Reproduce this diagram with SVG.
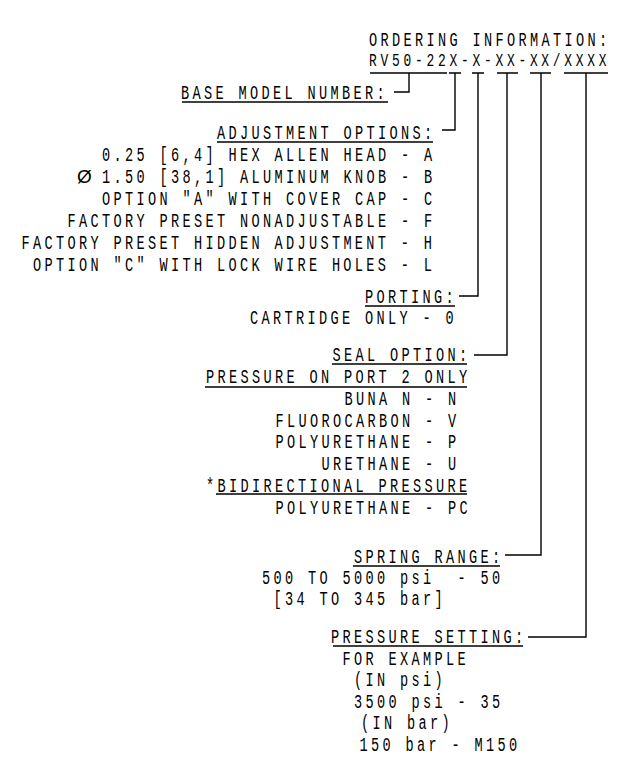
<svg xmlns="http://www.w3.org/2000/svg" width="632" height="784" viewBox="0 0 632 784">
<style>
  text { font-family: "Liberation Mono", "DejaVu Sans Mono", monospace; fill: #000; }
  .t { font-size: 20px; letter-spacing: 4.91px; }
  .h1 { font-size: 20px; letter-spacing: 4.91px; }
  .h2 { font-size: 19px; letter-spacing: 5.51px; }
  .sym { font-family: "Liberation Sans", "DejaVu Sans", sans-serif; font-size: 19px; }
  .ul { stroke: #000; stroke-width: 1.6; fill: none; }
  .cn { stroke: #000; stroke-width: 1.4; fill: none; }
</style>
<rect width="632" height="784" fill="#fff"/>

<g id="header">
  <g transform="scale(0.68 1)">
    <text class="h1" x="542.6" y="46">ORDERING INFORMATION:</text>
    <text class="h2" x="542.6" y="66">RV50-22X-X-XX-XX/XXXX</text>
  </g>
  <path class="ul" d="M370 73H447M449 73H461M472 73H484M497 73H518M530 73H551M564 73H608"/>
</g>

<g id="base-model">
  <g transform="scale(0.68 1)">
    <text class="t" x="266.2" y="99">BASE MODEL NUMBER:</text>
  </g>
  <path class="ul" d="M182 102H388"/>
</g>

<g id="adjustment-options">
  <g transform="scale(0.68 1)">
    <text class="t" x="319.1" y="139">ADJUSTMENT OPTIONS:</text>
    <text class="t" x="150" y="161">0.25 [6,4] HEX ALLEN HEAD - A</text>
    <text class="t" x="150" y="183">1.50 [38,1] ALUMINUM KNOB - B</text>
    <text class="t" x="150" y="205">OPTION "A" WITH COVER CAP - C</text>
    <text class="t" x="99.3" y="227">FACTORY PRESET NONADJUSTABLE - F</text>
    <text class="t" x="31.6" y="249">FACTORY PRESET HIDDEN ADJUSTMENT - H</text>
    <text class="t" x="48.5" y="271">OPTION "C" WITH LOCK WIRE HOLES - L</text>
  </g>
  <text class="sym" x="77" y="183">Ø</text>
  <path class="ul" d="M217 142H433"/>
</g>

<g id="porting">
  <g transform="scale(0.68 1)">
    <text class="t" x="536.8" y="303">PORTING:</text>
    <text class="t" x="367.6" y="324">CARTRIDGE ONLY - 0</text>
  </g>
  <path class="ul" d="M365 306H455"/>
</g>

<g id="seal-option">
  <g transform="scale(0.68 1)">
    <text class="t" x="489.1" y="361">SEAL OPTION:</text>
    <text class="t" x="303.1" y="383">PRESSURE ON PORT 2 ONLY</text>
    <text class="t" x="506.6" y="405">BUNA N - N</text>
    <text class="t" x="405.1" y="427">FLUOROCARBON - V</text>
    <text class="t" x="405.1" y="448">POLYURETHANE - P</text>
    <text class="t" x="472.8" y="470">URETHANE - U</text>
    <text class="t" x="303.1" y="492">*BIDIRECTIONAL PRESSURE</text>
    <text class="t" x="405.1" y="514">POLYURETHANE - PC</text>
  </g>
  <path class="ul" d="M332 364H467M205 387H467M216 494H467"/>
</g>

<g id="spring-range">
  <g transform="scale(0.68 1)">
    <text class="t" x="520.7" y="563">SPRING RANGE:</text>
    <text class="t" x="385.3" y="584" xml:space="preserve">500 TO 5000 psi  - 50</text>
    <text class="t" x="402.2" y="605">[34 TO 345 bar]</text>
  </g>
  <path class="ul" d="M353 566H500"/>
</g>

<g id="pressure-setting">
  <g transform="scale(0.68 1)">
    <text class="t" x="486.9" y="643">PRESSURE SETTING:</text>
    <text class="t" x="503.8" y="665">FOR EXAMPLE</text>
    <text class="t" x="520.7" y="686">(IN psi)</text>
    <text class="t" x="520.7" y="708">3500 psi - 35</text>
    <text class="t" x="530.9" y="729">(IN bar)</text>
    <text class="t" x="528.7" y="751">150 bar - M150</text>
  </g>
  <path class="ul" d="M333 646H523"/>
</g>

<g id="connectors">
  <path class="cn" d="M409 73V92H394"/>
  <path class="cn" d="M455 73V130H442"/>
  <path class="cn" d="M478 73V296H459"/>
  <path class="cn" d="M507 73V355H474"/>
  <path class="cn" d="M541 73V555H505"/>
  <path class="cn" d="M586 73V637H528"/>
</g>
</svg>
